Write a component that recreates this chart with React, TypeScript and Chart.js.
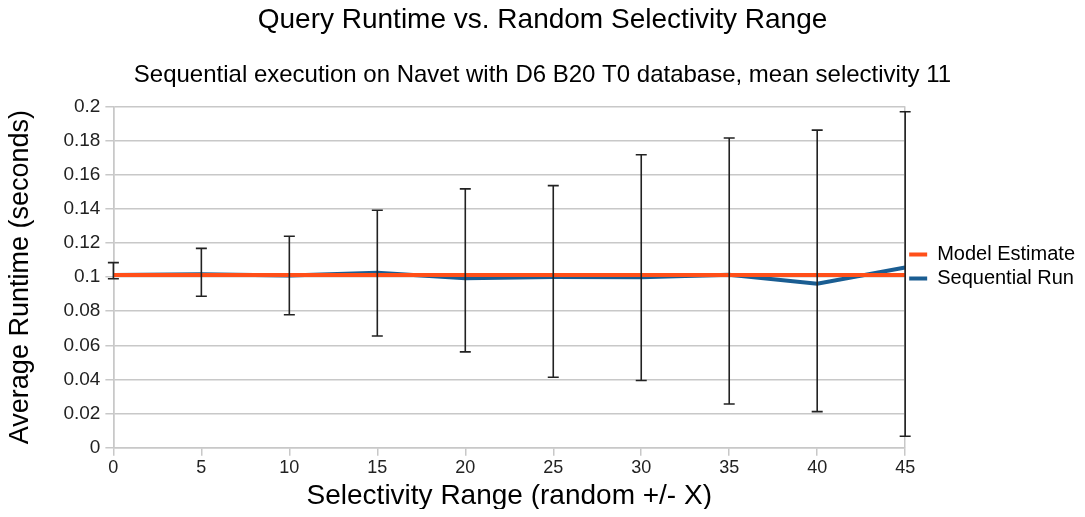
import { useEffect, useRef } from "react";
import { Chart, registerables } from "chart.js";

Chart.register(...registerables);

const selectivityRange = [0, 5, 10, 15, 20, 25, 30, 35, 40, 45];
const modelEstimate = [0.1012, 0.1012, 0.1012, 0.1012, 0.1012, 0.1012, 0.1012, 0.1012, 0.1012, 0.1012];
const sequentialRun = [0.1012, 0.1016, 0.101, 0.1026, 0.0993, 0.1, 0.0999, 0.1014, 0.0961, 0.1056];
const errorHigh = [0.1085, 0.1168, 0.1239, 0.1392, 0.1517, 0.1536, 0.1717, 0.1815, 0.1861, 0.1969];
const errorLow = [0.099, 0.0888, 0.0779, 0.0655, 0.0562, 0.0413, 0.0394, 0.0257, 0.0212, 0.0068];
const yTickLabels = ["0", "0.02", "0.04", "0.06", "0.08", "0.1", "0.12", "0.14", "0.16", "0.18", "0.2"];

const FONT = "'Liberation Sans', Arial, sans-serif";
const ORANGE = "#ff4f19";
const BLUE = "#1a5d92";
const GRID = "#c8c8c8";

const errorBarPlugin = {
  id: "errorBars",
  afterDatasetsDraw(chart: any) {
    const ctx = chart.ctx;
    const xs = chart.scales.x;
    const ys = chart.scales.y;
    ctx.save();
    ctx.strokeStyle = "#222222";
    ctx.lineWidth = 1.6;
    for (let i = 0; i < selectivityRange.length; i++) {
      const px = xs.getPixelForValue(selectivityRange[i]);
      const top = ys.getPixelForValue(errorHigh[i]);
      const bot = ys.getPixelForValue(errorLow[i]);
      ctx.beginPath();
      ctx.moveTo(px, top);
      ctx.lineTo(px, bot);
      ctx.moveTo(px - 5.5, top);
      ctx.lineTo(px + 5.5, top);
      ctx.moveTo(px - 5.5, bot);
      ctx.lineTo(px + 5.5, bot);
      ctx.stroke();
    }
    ctx.restore();
  },
};

export default function App() {
  const ref = useRef<HTMLCanvasElement | null>(null);
  useEffect(() => {
    if (!ref.current) return;
    const lastIdx = selectivityRange.length - 1;
    const chart = new Chart(ref.current, {
      type: "line",
      data: {
        datasets: [
          {
            label: "Model Estimate",
            data: selectivityRange.map((x, i) => ({ x, y: modelEstimate[i] })),
            borderColor: ORANGE,
            backgroundColor: ORANGE,
            borderWidth: 4,
            pointRadius: 0,
            tension: 0,
          },
          {
            label: "Sequential Run",
            data: selectivityRange.map((x, i) => ({ x, y: sequentialRun[i] })),
            borderColor: BLUE,
            backgroundColor: BLUE,
            borderWidth: 4,
            pointRadius: 0,
            tension: 0,
          },
        ],
      },
      options: {
        animation: false,
        responsive: true,
        maintainAspectRatio: false,
        layout: { padding: 0 },
        plugins: {
          title: {
            display: true,
            text: "Query Runtime vs. Random Selectivity Range",
            color: "#000",
            font: { family: FONT, size: 28, weight: "normal" },
            padding: { top: 3, bottom: 24 },
          },
          subtitle: {
            display: true,
            text: "Sequential execution on Navet with D6 B20 T0 database, mean selectivity 11",
            color: "#000",
            font: { family: FONT, size: 24, weight: "normal" },
            padding: { top: 0, bottom: 17 },
          },
          legend: {
            display: true,
            position: "right",
            title: {
              display: true,
              text: " ",
              font: { size: 10, lineHeight: 1 },
              padding: 3,
            },
            labels: {
              color: "#000",
              font: { family: FONT, size: 20 },
              usePointStyle: true,
              pointStyle: "line",
              pointStyleWidth: 18,
              padding: 4,
            },
          },
          tooltip: { enabled: false },
        },
        scales: {
          x: {
            type: "linear",
            min: 0,
            max: 45,
            ticks: {
              stepSize: 5,
              color: "#222",
              font: { family: FONT, size: 18 },
              padding: 1,
              maxRotation: 0,
            },
            grid: {
              color: (c: any) => (c.index === 0 || c.index === lastIdx ? GRID : "rgba(0,0,0,0)"),
              tickColor: GRID,
              tickLength: 8,
              lineWidth: 1.5,
            },
            border: { color: GRID, width: 1.5 },
            title: {
              display: true,
              text: "Selectivity Range (random +/- X)",
              color: "#000",
              font: { family: FONT, size: 28 },
              padding: { top: 0, bottom: 4 },
            },
          },
          y: {
            min: 0,
            max: 0.2,
            ticks: {
              stepSize: 0.02,
              color: "#222",
              font: { family: FONT, size: 19 },
              padding: 5,
              callback: (_v: any, i: number) => yTickLabels[i],
            },
            grid: {
              color: GRID,
              tickColor: GRID,
              tickLength: 8,
              lineWidth: 1.5,
            },
            border: { color: GRID, width: 1.5 },
            title: {
              display: true,
              text: "Average Runtime (seconds)",
              color: "#000",
              font: { family: FONT, size: 27 },
              padding: { top: 4, bottom: 22 },
            },
          },
        },
      },
      plugins: [errorBarPlugin],
    } as any);
    return () => chart.destroy();
  }, []);
  return (
    <div style={{ width: 1085, height: 517, position: "relative", margin: -8 }}>
      <canvas ref={ref} />
    </div>
  );
}
